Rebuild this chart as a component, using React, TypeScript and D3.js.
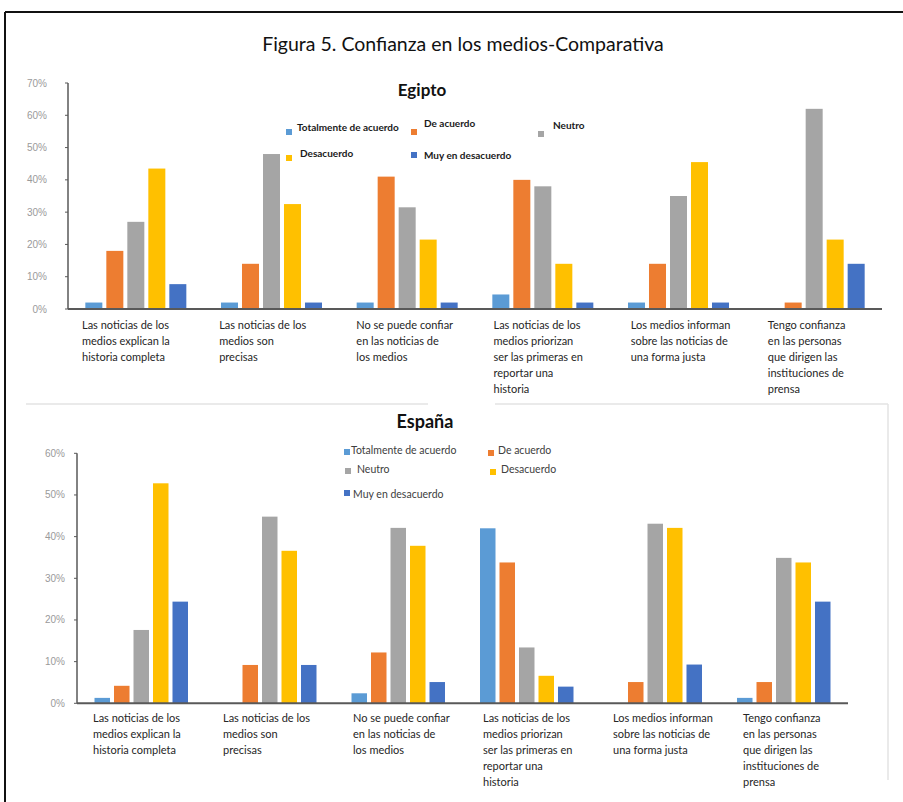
import React from 'react';
import * as d3 from 'd3';

const categories: string[][] = [
  ['Las noticias de los', 'medios explican la', 'historia completa'],
  ['Las noticias de los', 'medios son', 'precisas'],
  ['No se puede confiar', 'en las noticias de', 'los medios'],
  ['Las noticias de los', 'medios priorizan', 'ser las primeras en', 'reportar una', 'historia'],
  ['Los medios informan', 'sobre las noticias de', 'una forma justa'],
  ['Tengo confianza', 'en las personas', 'que dirigen las', 'instituciones de', 'prensa'],
];
const seriesNames = ['Totalmente de acuerdo', 'De acuerdo', 'Neutro', 'Desacuerdo', 'Muy en desacuerdo'];
const seriesColors = ['#5B9BD5', '#ED7D31', '#A5A5A5', '#FFC000', '#4472C4'];

const egiptoTotalmente = [2, 2, 2, 4.5, 2, 0];
const egiptoDeAcuerdo = [18, 14, 41, 40, 14, 2];
const egiptoNeutro = [27, 48, 31.5, 38, 35, 62];
const egiptoDesacuerdo = [43.5, 32.5, 21.5, 14, 45.5, 21.5];
const egiptoMuyDesacuerdo = [7.7, 2, 2, 2, 2, 14];

const espanaTotalmente = [1.3, 0, 2.4, 42, 0, 1.3];
const espanaDeAcuerdo = [4.2, 9.2, 12.2, 33.8, 5.1, 5.1];
const espanaNeutro = [17.6, 44.8, 42.1, 13.4, 43.1, 34.9];
const espanaDesacuerdo = [52.8, 36.6, 37.8, 6.6, 42.1, 33.8];
const espanaMuyDesacuerdo = [24.4, 9.2, 5.1, 4, 9.3, 24.4];

const egiptoTicks = [0, 10, 20, 30, 40, 50, 60, 70];
const espanaTicks = [0, 10, 20, 30, 40, 50, 60];

type LegendItem = { mx: number; my: number; tx: number; ty: number };

type ChartCfg = {
  title: string;
  titleX: number;
  titleY: number;
  titleSize: number;
  values: number[][];
  ticks: number[];
  x0: number;
  x1: number;
  yBase: number;
  yTop: number;
  groupW: number;
  pad: number;
  labelY: number;
  labelDx: number;
  tickRight: number;
  legend: LegendItem[];
  legendBold: boolean;
  legendSize: number;
};

const Chart = ({ cfg }: { cfg: ChartCfg }) => {
  const idx = categories.map((_, i) => String(i));
  const x = d3.scaleBand<string>().domain(idx).range([cfg.x0, cfg.x1]).paddingInner(0).paddingOuter(0);
  const inner = d3
    .scaleBand<string>()
    .domain(seriesNames)
    .range([-cfg.groupW / 2, cfg.groupW / 2])
    .paddingInner(cfg.pad)
    .paddingOuter(0);
  const maxV = cfg.ticks[cfg.ticks.length - 1];
  const y = d3.scaleLinear().domain([0, maxV]).range([cfg.yBase, cfg.yTop]);
  const bw = x.bandwidth();
  return (
    <g>
      <text
        x={cfg.titleX}
        y={cfg.titleY}
        textAnchor="middle"
        dominantBaseline="central"
        fontFamily="Lato, 'Open Sans', sans-serif"
        fontWeight="bold"
        fontSize={cfg.titleSize}
        fill="#111"
      >
        {cfg.title}
      </text>
      {cfg.ticks.map((t) => (
        <g key={t}>
          <text
            x={cfg.tickRight}
            y={y(t)}
            textAnchor="end"
            dominantBaseline="central"
            fontFamily="'Liberation Sans', Arial, sans-serif"
            fontSize={10}
            fill="#9a9a9a"
          >
            {t}%
          </text>
          <line x1={cfg.x0 - 3} x2={cfg.x0} y1={y(t)} y2={y(t)} stroke="#595959" strokeWidth={1} />
        </g>
      ))}
      {cfg.values.map((vals, s) => (
        <g key={s}>
          {vals.map((v, c) =>
            v > 0 ? (
              <rect
                key={c}
                x={(x(String(c)) as number) + bw / 2 + (inner(seriesNames[s]) as number)}
                y={y(v)}
                width={inner.bandwidth()}
                height={cfg.yBase - y(v)}
                fill={seriesColors[s]}
              />
            ) : null
          )}
        </g>
      ))}
      <line x1={cfg.x0} x2={cfg.x0} y1={y(maxV)} y2={cfg.yBase} stroke="#595959" strokeWidth={1.5} />
      <line x1={cfg.x0} x2={cfg.x1} y1={cfg.yBase} y2={cfg.yBase} stroke="#595959" strokeWidth={2} />
      {categories.map((lines, c) => (
        <text
          key={c}
          fontFamily="Lato, 'Open Sans', sans-serif"
          fontSize={11}
          fill="#262626"
        >
          {lines.map((ln, j) => (
            <tspan key={j} x={(x(String(c)) as number) + cfg.labelDx + c * 1.5} y={cfg.labelY + j * 16}>
              {ln}
            </tspan>
          ))}
        </text>
      ))}
      {cfg.legend.map((it, s) => (
        <g key={s}>
          <rect x={it.mx - 3} y={it.my - 3} width={6} height={6} fill={seriesColors[s]} />
          <text
            x={it.tx}
            y={it.ty}
            dominantBaseline="central"
            fontFamily="Lato, 'Open Sans', sans-serif"
            fontWeight={cfg.legendBold ? 'bold' : 'normal'}
            fontSize={cfg.legendSize}
            fill={cfg.legendBold ? '#1a1a1a' : '#404040'}
          >
            {seriesNames[s]}
          </text>
        </g>
      ))}
    </g>
  );
};

const egiptoCfg: ChartCfg = {
  title: 'Egipto',
  titleX: 422,
  titleY: 89,
  titleSize: 17,
  values: [egiptoTotalmente, egiptoDeAcuerdo, egiptoNeutro, egiptoDesacuerdo, egiptoMuyDesacuerdo],
  ticks: egiptoTicks,
  x0: 68,
  x1: 882,
  yBase: 309,
  yTop: 83,
  groupW: 101,
  pad: 0.19,
  labelY: 329,
  labelDx: 14,
  tickRight: 47,
  legend: [
    { mx: 289, my: 132, tx: 297, ty: 127 },
    { mx: 414, my: 132, tx: 424, ty: 123 },
    { mx: 541, my: 134, tx: 553, ty: 125 },
    { mx: 289, my: 158, tx: 300, ty: 153 },
    { mx: 414, my: 155, tx: 424, ty: 155 },
  ],
  legendBold: true,
  legendSize: 10,
};

const espanaCfg: ChartCfg = {
  title: 'España',
  titleX: 425,
  titleY: 421,
  titleSize: 18,
  values: [espanaTotalmente, espanaDeAcuerdo, espanaNeutro, espanaDesacuerdo, espanaMuyDesacuerdo],
  ticks: espanaTicks,
  x0: 77,
  x1: 848,
  yBase: 703.3,
  yTop: 453.3,
  groupW: 93.5,
  pad: 0.205,
  labelY: 722,
  labelDx: 16,
  tickRight: 65,
  legend: [
    { mx: 347, my: 452, tx: 351, ty: 450 },
    { mx: 491, my: 453, tx: 498, ty: 450 },
    { mx: 348, my: 471, tx: 357, ty: 469 },
    { mx: 493, my: 472, tx: 501, ty: 469 },
    { mx: 347, my: 493, tx: 353, ty: 494 },
  ],
  legendBold: false,
  legendSize: 10.5,
};

export default function App() {
  return (
    <svg
      width={903}
      height={802}
      style={{ position: 'absolute', left: 0, top: 0, background: '#fff' }}
    >
      <rect x={0} y={0} width={903} height={802} fill="#fff" />
      <line x1={5} x2={903} y1={12} y2={12} stroke="#111" strokeWidth={2} />
      <line x1={5} x2={5} y1={12} y2={802} stroke="#111" strokeWidth={2} />
      <text
        x={463}
        y={43}
        textAnchor="middle"
        dominantBaseline="central"
        fontFamily="Lato, 'Open Sans', sans-serif"
        fontSize={19.5}
        fill="#111"
      >
        Figura 5. Confianza en los medios-Comparativa
      </text>
      <line x1={26} x2={428} y1={404} y2={404} stroke="#e3e3e3" strokeWidth={1.5} />
      <line x1={495} x2={888} y1={404} y2={404} stroke="#e3e3e3" strokeWidth={1.5} />
      <line x1={888} x2={888} y1={404} y2={780} stroke="#e3e3e3" strokeWidth={1.5} />
      <Chart cfg={egiptoCfg} />
      <Chart cfg={espanaCfg} />
    </svg>
  );
}
